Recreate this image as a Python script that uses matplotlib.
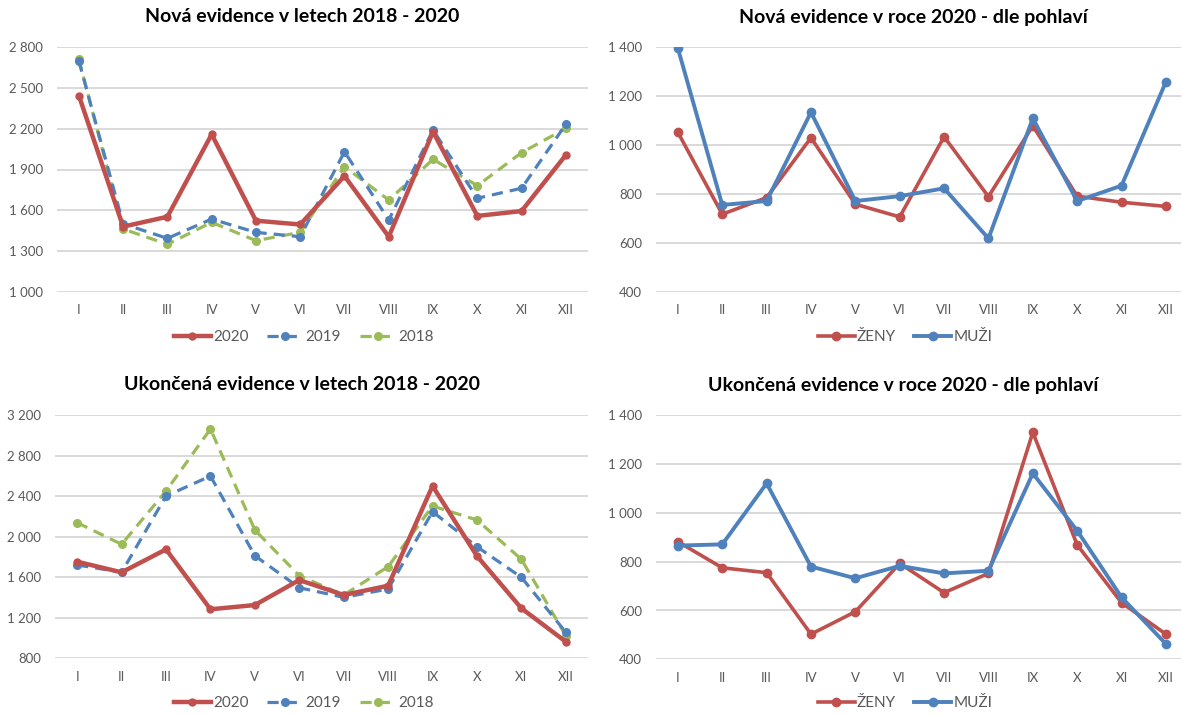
import matplotlib
matplotlib.use("Agg")
import matplotlib.pyplot as plt
from matplotlib.ticker import FuncFormatter

plt.rcParams['font.family'] = ['Lato', 'DejaVu Sans']

months = ["I", "II", "III", "IV", "V", "VI", "VII", "VIII", "IX", "X", "XI", "XII"]

# Nová evidence v letech 2018 - 2020
new_2020 = [2445, 1479, 1552, 2159, 1523, 1495, 1852, 1405, 2178, 1558, 1594, 2007]
new_2019 = [2700, 1500, 1393, 1535, 1437, 1405, 2031, 1528, 2191, 1688, 1762, 2233]
new_2018 = [2714, 1462, 1349, 1511, 1376, 1437, 1921, 1675, 1975, 1781, 2024, 2203]

# Nová evidence v roce 2020 - dle pohlaví
new_zeny = [1052, 717, 785, 1030, 758, 706, 1034, 789, 1079, 791, 766, 749]
new_muzi = [1396, 755, 771, 1134, 771, 791, 823, 618, 1109, 771, 834, 1259]

# Ukončená evidence v letech 2018 - 2020
end_2020 = [1754, 1649, 1876, 1284, 1326, 1573, 1425, 1517, 2502, 1810, 1294, 964]
end_2019 = [1722, 1650, 2403, 2600, 1813, 1497, 1402, 1484, 2248, 1902, 1600, 1057]
end_2018 = [2139, 1926, 2452, 3065, 2067, 1616, 1425, 1705, 2304, 2166, 1778, 1023]

# Ukončená evidence v roce 2020 - dle pohlaví
end_zeny = [882, 775, 755, 503, 595, 793, 673, 752, 1330, 869, 632, 503]
end_muzi = [866, 871, 1121, 780, 732, 783, 752, 763, 1162, 927, 654, 463]

RED = "#C0504D"
BLUE = "#4F81BD"
GREEN = "#9BBB59"
GRAY = "#595959"

W, H = 1182, 715


def px_axes(fig, left, right, top, bottom):
    return fig.add_axes([left / W, 1 - bottom / H, (right - left) / W, (bottom - top) / H])


def style(ax, lo, hi, step, right_lim=11.5):
    ax.set_ylim(lo, hi)
    ax.set_yticks(range(lo, hi + 1, step))
    ax.set_xlim(-0.5, right_lim)
    ax.set_xticks(range(12))
    ax.set_xticklabels(months)
    ax.yaxis.set_major_formatter(FuncFormatter(lambda v, p: f"{int(v):,}".replace(",", " ")))
    for s in ax.spines.values():
        s.set_visible(False)
    ax.grid(axis="y", color="#D0D0D0", linewidth=1.1)
    ax.set_axisbelow(True)
    ax.tick_params(length=0, labelsize=9.5, labelcolor=GRAY)
    ax.tick_params(axis="y", pad=10)
    ax.tick_params(axis="x", pad=9)


def years_plot(ax, s2020, s2019, s2018):
    x = range(12)
    ax.plot(x, s2020, color=RED, lw=3.2, marker="o", ms=5, label="2020", zorder=4)
    ax.plot(x, s2019, color=BLUE, lw=2.3, ls=(0, (3.5, 2.2)), marker="o", ms=5.5, label="2019", zorder=3)
    ax.plot(x, s2018, color=GREEN, lw=2.3, ls=(0, (3.5, 2.2)), marker="o", ms=5.5, label="2018", zorder=2)


def gender_plot(ax, zeny, muzi):
    x = range(12)
    ax.plot(x, zeny, color=RED, lw=2.6, marker="o", ms=6, label="ŽENY", zorder=2)
    ax.plot(x, muzi, color=BLUE, lw=2.8, marker="o", ms=6, label="MUŽI", zorder=3)


def main():
    fig = plt.figure(figsize=(W / 100, H / 100), dpi=100)

    ax1 = px_axes(fig, 56.7, 588, 47.3, 291.7)
    years_plot(ax1, new_2020, new_2019, new_2018)
    style(ax1, 1000, 2800, 300)

    ax2 = px_axes(fig, 655.7, 1181, 47.3, 291.7)
    gender_plot(ax2, new_zeny, new_muzi)
    style(ax2, 400, 1400, 200, 11.34)

    ax3 = px_axes(fig, 55, 588, 415.3, 658.3)
    years_plot(ax3, end_2020, end_2019, end_2018)
    style(ax3, 800, 3200, 400)

    ax4 = px_axes(fig, 655.7, 1181, 415.3, 659.3)
    gender_plot(ax4, end_zeny, end_muzi)
    style(ax4, 400, 1400, 200, 11.34)

    titles = [
        (302, 17, "Nová evidence v letech 2018 - 2020"),
        (913, 17, "Nová evidence v roce 2020 - dle pohlaví"),
        (302, 385, "Ukončená evidence v letech 2018 - 2020"),
        (903, 386, "Ukončená evidence v roce 2020 - dle pohlaví"),
    ]
    for x, y, t in titles:
        fig.text(x / W, 1 - y / H, t, ha="center", va="center",
                 fontsize=14, fontweight="bold", color="black")

    legends = [(ax1, 304, 337), (ax2, 905, 337), (ax3, 304, 703), (ax4, 905, 703)]
    for ax, x, y in legends:
        ax.legend(loc="center", bbox_to_anchor=(x / W, 1 - y / H), bbox_transform=fig.transFigure,
                  ncol=3, frameon=False, fontsize=11, labelcolor=GRAY,
                  handlelength=2.4, handletextpad=0.15, columnspacing=1.2)

    fig.savefig("out.png", dpi=100)


if __name__ == '__main__':
    main()
